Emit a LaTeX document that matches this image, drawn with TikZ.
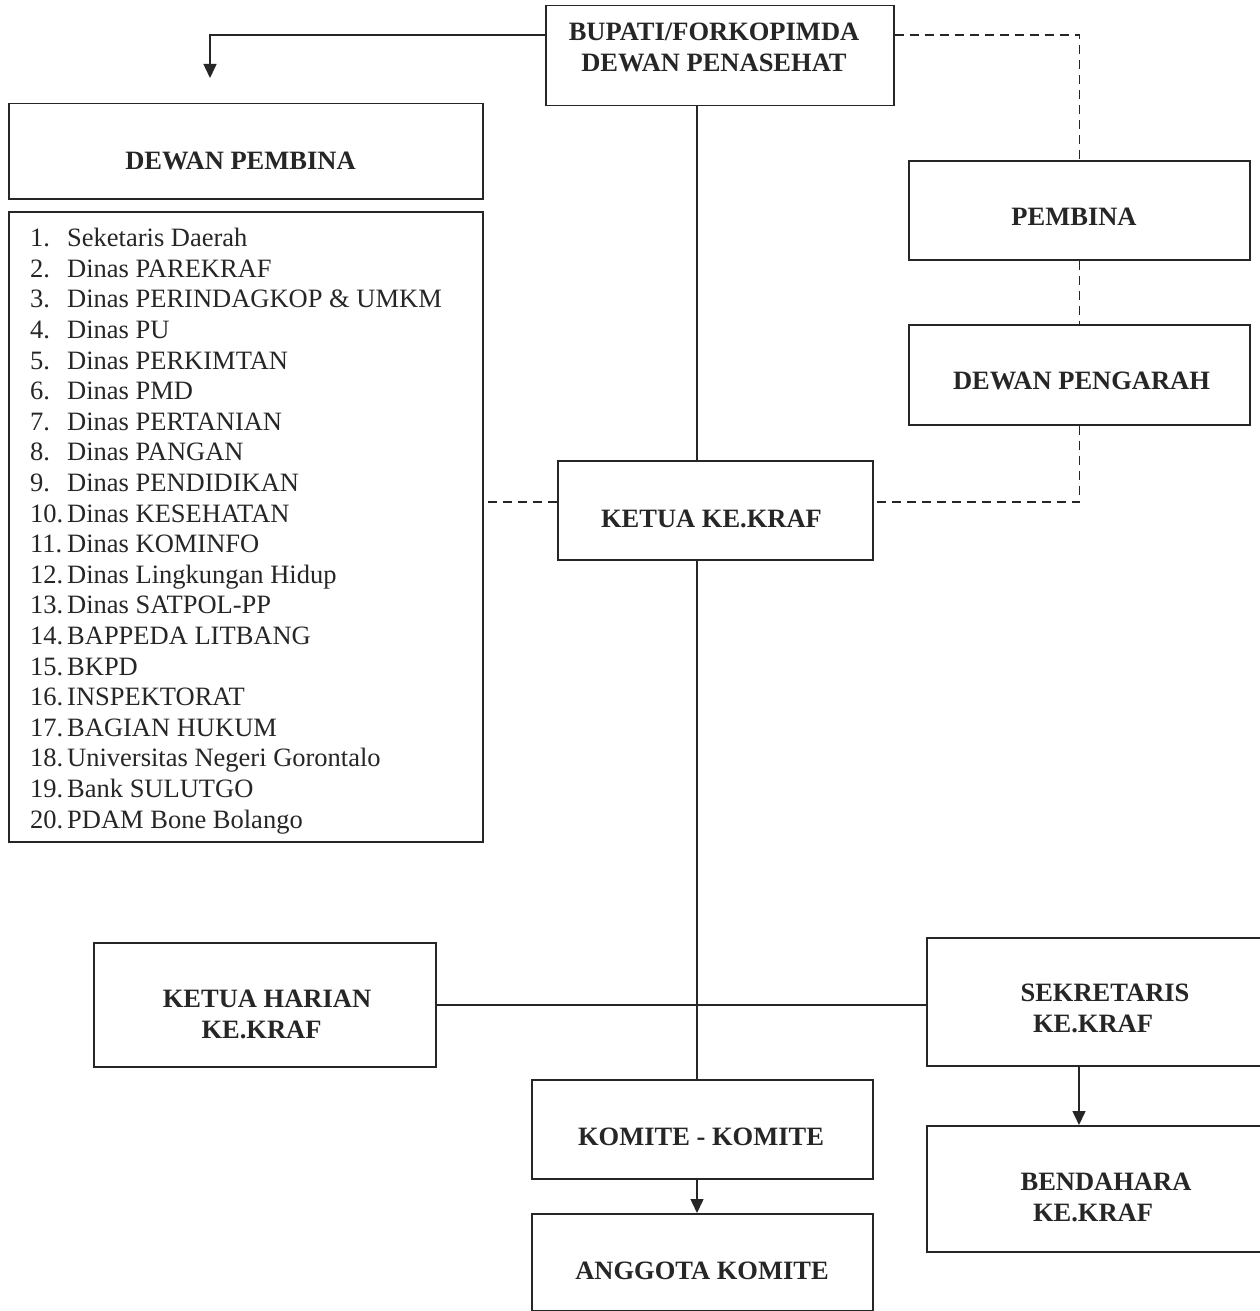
\documentclass[tikz,border=0pt]{standalone}
\usepackage{fontspec}
\setmainfont{Liberation Serif}
\usetikzlibrary{arrows.meta,calc}
\begin{document}
\begin{tikzpicture}[x=1pt,y=-1pt,
  box/.style={draw=black!85, line width=1.5pt, anchor=north west, inner sep=0pt},
  lbl/.style={font=\fontsize{26.5}{31}\selectfont\bfseries, align=center, inner sep=0pt, text=black!85},
  item/.style={font=\fontsize{26.5}{30.6}\selectfont, anchor=base west, inner sep=0pt, text=black!85},
  conn/.style={draw=black!85, line width=1.5pt},
  arr/.style={conn, -{Triangle[width=13pt,length=14pt]}},
  dsh/.style={draw=black!85, line width=1.4pt, dash pattern=on 9pt off 6pt}
]
\clip (0,0) rectangle (1260,1311);
\fill[white] (0,0) rectangle (1260,1311);

% boxes
\node[box, minimum width=348pt, minimum height=100pt] (bup) at (545,5) {};
\node[box, minimum width=474pt, minimum height=95pt] (pb) at (8,103) {};
\node[box, minimum width=474pt, minimum height=630pt] (list) at (8,211) {};
\node[box, minimum width=341pt, minimum height=99pt] (pemb) at (908,160) {};
\node[box, minimum width=341pt, minimum height=100pt] (peng) at (908,324) {};
\node[box, minimum width=315pt, minimum height=99pt] (ketua) at (557,460) {};
\node[box, minimum width=342pt, minimum height=124pt] (kh) at (93,942) {};
\node[box, minimum width=344pt, minimum height=128pt] (sek) at (926,937) {};
\node[box, minimum width=341pt, minimum height=99pt] (kom) at (531,1079) {};
\node[box, minimum width=344pt, minimum height=126pt] (bend) at (926,1125) {};
\node[box, minimum width=341pt, minimum height=97pt] (ang) at (531,1213) {};

% labels
\node[lbl] (bupT) at (714,47.5) {BUPATI/FORKOPIMDA\\DEWAN PENASEHAT};
\node[lbl] (pbT) at (240.5,161) {DEWAN PEMBINA};
\node[lbl] (pemT) at (1074,217) {PEMBINA};
\node[lbl] (pengT) at (1081.5,381) {DEWAN PENGARAH};
\node[lbl] (ketT) at (711.5,519) {KETUA KE.KRAF};
\node[lbl] (khT) at (267,1014.5) {KETUA HARIAN\\KE.KRAF\hspace*{11pt}};
\node[lbl] (sekT) at (1105,1008.5) {SEKRETARIS\\KE.KRAF\hspace*{24pt}};
\node[lbl] (komT) at (701,1137) {KOMITE - KOMITE};
\node[lbl] (bendT) at (1106,1197.5) {BENDAHARA\\KE.KRAF\hspace*{26pt}};
\node[lbl] (angT) at (702,1271) {ANGGOTA KOMITE};

% list items
\foreach \n/\t [count=\i from 0] in {
  1./Seketaris Daerah,
  2./Dinas PAREKRAF,
  3./Dinas PERINDAGKOP \& UMKM,
  4./Dinas PU,
  5./Dinas PERKIMTAN,
  6./Dinas PMD,
  7./Dinas PERTANIAN,
  8./Dinas PANGAN,
  9./Dinas PENDIDIKAN,
  10./Dinas KESEHATAN,
  11./Dinas KOMINFO,
  12./Dinas Lingkungan Hidup,
  13./Dinas SATPOL-PP,
  14./BAPPEDA LITBANG,
  15./BKPD,
  16./INSPEKTORAT,
  17./BAGIAN HUKUM,
  18./Universitas Negeri Gorontalo,
  19./Bank SULUTGO,
  20./PDAM Bone Bolango}
  \node[item] (it\i) at (30,246.6+30.6*\i) {\makebox[37pt][l]{\n}\t};

% connectors
\coordinate (spine) at (697,0);
\coordinate (pbTip) at (210,78);
\coordinate (sx) at (1079,0);
\coordinate (hy) at (0,1005);
\coordinate (bL) at ($(bup.north west)+(0,30)$);
\coordinate (bR) at ($(bup.north east)+(0,30)$);
\coordinate (kL) at ($(ketua.north west)+(0,42)$);
\coordinate (kR) at ($(ketua.north east)+(0,42)$);

\draw[arr] (bL) -| (pbTip);
\draw[dsh] (bR) -| (pemb.north);
\draw[dsh] (pemb.south) -- (peng.north);
\draw[dsh] (peng.south) |- (kR);
\draw[dsh] (kL) -- (kL -| list.east);
\draw[conn] (bup.south -| spine) -- (ketua.north -| spine);
\draw[conn] (ketua.south -| spine) -- (kom.north -| spine);
\draw[conn] (kh.east |- hy) -- (sek.west |- hy);
\draw[arr] (sek.south -| sx) -- (bend.north -| sx);
\draw[arr] (kom.south -| spine) -- (ang.north -| spine);
\end{tikzpicture}
\end{document}
